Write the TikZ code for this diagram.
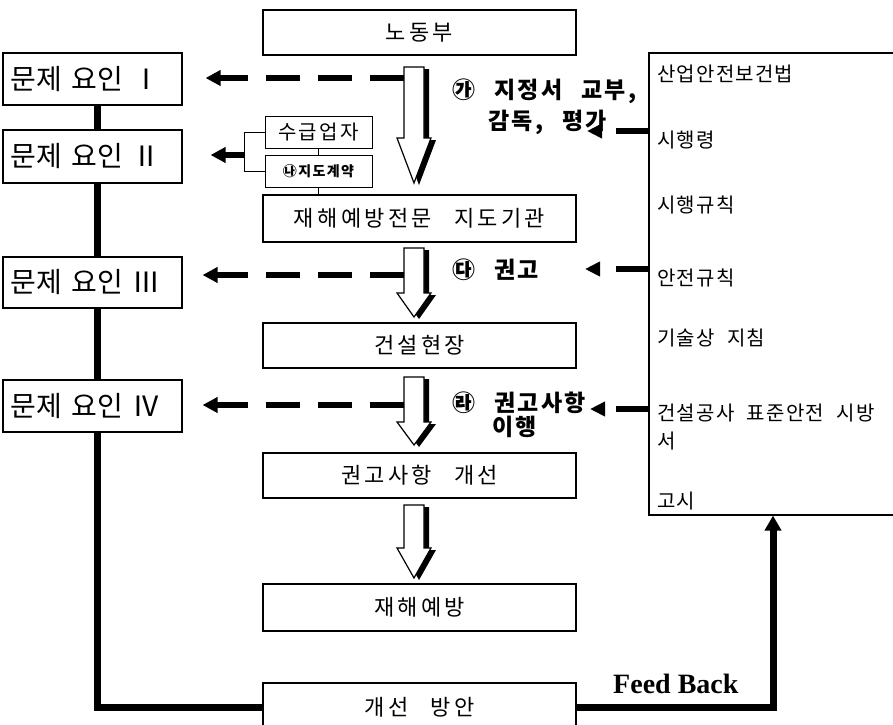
\documentclass[tikz,border=0pt]{standalone}
\usepackage{fontspec}
\usetikzlibrary{arrows.meta}
\newfontfamily\kr[LetterSpace=15,WordSpace=2.7]{Noto Sans CJK KR}
\newfontfamily\krp[LetterSpace=2,WordSpace=2]{Noto Sans CJK KR}
\newfontfamily\krs[LetterSpace=6,WordSpace=2.2]{Noto Sans CJK KR}
\newfontfamily\krsm[LetterSpace=12]{Noto Sans CJK KR}
\newfontfamily\krb[LetterSpace=10,WordSpace=2.5]{Noto Sans CJK KR}
\newfontfamily\fbfont{Liberation Serif}
\newcommand\hollowarr[4]{%
  \begin{scope}[shift={(5,2)}]
    \fill[black] (#1-10,#2)--(#1+10,#2)--(#1+10,#3)--(#1+17,#3)--(#1,#4)--(#1-17,#3)--(#1-10,#3)--cycle;
  \end{scope}
  \filldraw[fill=white,line width=1.2pt,line join=miter] (#1-10,#2)--(#1+10,#2)--(#1+10,#3)--(#1+17,#3)--(#1,#4)--(#1-17,#3)--(#1-10,#3)--cycle;}
\begin{document}
\begin{tikzpicture}[x=1pt,y=-1pt,
  box/.style={draw,line width=1.1pt,fill=white,inner sep=0pt},
  mbox/.style={box,minimum width=313pt,font=\kr\fontsize{22}{22}\selectfont},
  pbox/.style={box,text width=165pt,inner xsep=7pt,align=left,minimum width=179pt,font=\krp\fontsize{28}{28}\selectfont},
  sbox/.style={draw,line width=1pt,fill=white,inner sep=0pt,minimum width=107pt,minimum height=32pt},
  rtext/.style={anchor=base west,inner sep=0pt,font=\krs\fontsize{20}{20}\selectfont},
  lbl/.style={anchor=base west,inner sep=0pt,font=\krb\bfseries\fontsize{23}{23}\selectfont},
  thickline/.style={line width=7pt},
  dasharr/.style={line width=6.5pt,dash pattern=on 34pt off 18pt,-{Triangle[length=15pt,width=15pt]}},
  rarr/.style={line width=6.5pt,dash pattern=on 32pt off 50pt,-{Triangle[length=15pt,width=14pt]}},
  solidarr/.style={line width=6.5pt,-{Triangle[length=15pt,width=15pt]}},
  thin/.style={line width=1pt}
]
\useasboundingbox (0,0) rectangle (893,724);

% central column
\node[mbox,minimum height=45pt] (labor) at (419.5,32.5) {노동부};
\node[mbox,minimum height=47pt] (inst) at (419.5,218.5) {재해예방전문 지도기관};
\node[mbox,minimum height=45pt] (site) at (419.5,345.5) {건설현장};
\node[mbox,minimum height=45pt] (impr) at (419.5,475.5) {권고사항 개선};
\node[mbox,minimum height=47pt] (prev) at (419.5,607.5) {재해예방};
\node[mbox,minimum height=48pt] (plan) at (419.5,707) {개선 방안};

% problem boxes
\node[pbox,minimum height=52pt] (p1) at (92.5,79) {문제 요인 Ⅰ};
\node[pbox,minimum height=53pt] (p2) at (92.5,156.5) {문제 요인 Ⅱ};
\node[pbox,minimum height=51pt] (p3) at (92.5,282.5) {문제 요인 Ⅲ};
\node[pbox,minimum height=52pt] (p4) at (92.5,406) {문제 요인 Ⅳ};

% small boxes
\node[sbox,font=\krsm\fontsize{20}{20}\selectfont] (sup) at (318.5,132) {수급업자};
\node[sbox,font=\krb\bfseries\fontsize{14}{14}\selectfont] (con) at (318.5,171) {㉯지도계약};

% right box
\node[draw,line width=1.1pt,minimum width=251pt,minimum height=462pt,inner sep=0pt] (rbox) at (774.5,284) {};
\node[rtext] (t1) at (657,81) {산업안전보건법};
\node[rtext] (t2) at (657,147) {시행령};
\node[rtext] (t3) at (657,212) {시행규칙};
\node[rtext] (t4) at (657,285) {안전규칙};
\node[rtext] (t5) at (657,345) {기술상 지침};
\node[rtext] (t6) at (657,420) {건설공사 표준안전 시방};
\node[rtext] (t6b) at (657,448) {서};
\node[rtext] (t7) at (657,508) {고시};

% labels
\node[lbl] (la) at (452,98) {㉮ 지정서 교부,};
\node[lbl] (lb) at (488,129) {감독, 평가};
\node[lbl] (lc) at (452,278) {㉰ 권고};
\node[lbl] (ld) at (452,411) {㉱ 권고사항};
\node[lbl] (le) at (492,435) {이행};
\node[anchor=base west,inner sep=0pt,font=\fbfont\bfseries\fontsize{28}{28}\selectfont] (fb) at (613,693) {Feed Back};

% left spine
\draw[thickline] ([xshift=4.5pt]p1.south) -- ([xshift=4.5pt]p2.north);
\draw[thickline] ([xshift=4.5pt]p2.south) -- ([xshift=4.5pt]p3.north);
\draw[thickline] ([xshift=4.5pt]p3.south) -- ([xshift=4.5pt]p4.north);
\draw[thickline,line join=miter] ([xshift=4.5pt]p4.south) |- (plan.west);
% feedback
\draw[thickline,line join=miter,-{Triangle[length=15pt,width=16pt]}] (plan.east) -| ([xshift=-1.5pt]rbox.south);

% bracket
\draw[thin] (sup.west) -- ++(-20,0) |- (con.west);
\draw[thin] (sup.south) -- (con.north);
\draw[thin] (con.south) -- (con.south |- inst.north);
\coordinate (bj) at (245,155);
\draw[solidarr,shorten >=28pt] (bj) -- (bj -| p2.east);

% dashed arrows to the left
\coordinate (s1) at (404,78);
\coordinate (s3) at (404,275);
\coordinate (s4) at (404,405);
\draw[dasharr,shorten >=23pt] (s1) -- (s1 -| p1.east);
\draw[dasharr,shorten >=20pt] (s3) -- (s3 -| p3.east);
\draw[dasharr,shorten >=20pt] (s4) -- (s4 -| p4.east);

% arrows from the right box
\coordinate (r1) at (587,131);
\coordinate (r3) at (585,269);
\coordinate (r4) at (590,409);
\draw[rarr] (rbox.west |- r1) -- (r1);
\draw[rarr] (rbox.west |- r3) -- (r3);
\draw[rarr] (rbox.west |- r4) -- (r4);

% hollow arrows
\hollowarr{414}{67}{138}{183}
\hollowarr{414}{248}{293}{317}
\hollowarr{414}{377}{422}{445}
\hollowarr{414}{505}{548}{578}
\end{tikzpicture}
\end{document}
